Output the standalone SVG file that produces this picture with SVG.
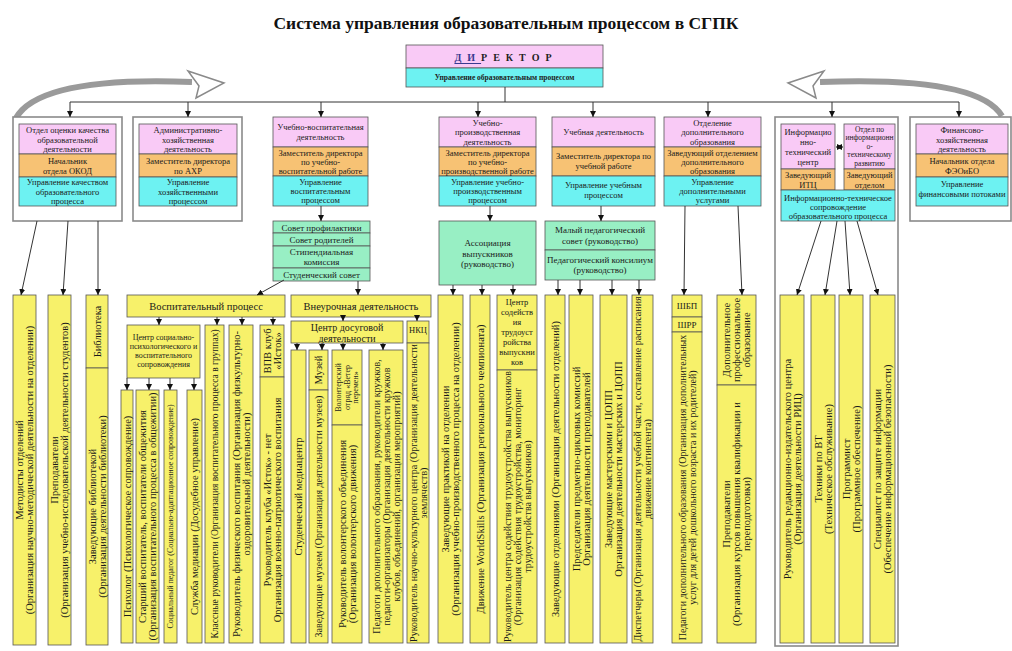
<svg xmlns="http://www.w3.org/2000/svg" width="1012" height="651" viewBox="0 0 1012 651">
<style>
.t{font-family:"Liberation Serif","Times New Roman",serif;font-size:8.5px;fill:#1a1a1a;text-anchor:middle;dominant-baseline:central}
.h{font-family:"Liberation Serif","Times New Roman",serif;font-size:10px;fill:#1a1a1a;text-anchor:middle;dominant-baseline:central}
.v{font-family:"Liberation Serif","Times New Roman",serif;font-size:10.5px;fill:#1a1a1a;text-anchor:middle;dominant-baseline:central}
.vs{font-family:"Liberation Serif","Times New Roman",serif;font-size:8px;fill:#1a1a1a;text-anchor:middle;dominant-baseline:central}
.pk{fill:#F9CAF6;stroke:#555;stroke-width:.8}
.or{fill:#F7C274;stroke:#555;stroke-width:.8}
.cy{fill:#6DF2F2;stroke:#555;stroke-width:.8}
.gr{fill:#98EFC4;stroke:#555;stroke-width:.8}
.ye{fill:#F7F16A;stroke:#555;stroke-width:.8}
.fr{fill:#fff;stroke:#8a8a8a;stroke-width:1.6}
.c{stroke:#333;stroke-width:1;fill:none;marker-end:url(#a)}
.l{stroke:#333;stroke-width:1;fill:none}
</style>
<defs>
<marker id="a" viewBox="0 0 10 10" refX="10" refY="5" markerWidth="6" markerHeight="6" orient="auto" markerUnits="userSpaceOnUse">
<path d="M0,0 L10,5 L0,10 Z" fill="#111"/>
</marker>
<marker id="b" viewBox="0 0 10 10" refX="10" refY="5" markerWidth="6" markerHeight="6" orient="auto-start-reverse" markerUnits="userSpaceOnUse">
<path d="M0,0 L10,5 L0,10 Z" fill="#111"/>
</marker>
</defs>
<rect width="1012" height="651" fill="#fff"/>
<text x="506" y="23" style="font-family:'Liberation Serif','Times New Roman',serif;font-size:17.5px;font-weight:bold;text-anchor:middle;dominant-baseline:central;fill:#111">Система управления образовательным процессом в СГПК</text>

<!-- curved arrows -->
<g id="curve-left">
<path d="M16,118 Q40,76 192,82" fill="none" stroke="#9a9a9a" stroke-width="6"/>
<path d="M188,71 L224,83 L196,98 L199,86 Z" fill="#fff" stroke="#8a8a8a" stroke-width="1.5"/>
</g>
<g id="curve-right">
<path d="M1002,116 Q978,76 820,82" fill="none" stroke="#9a9a9a" stroke-width="6"/>
<path d="M824,71 L788,83 L816,98 L813,86 Z" fill="#fff" stroke="#8a8a8a" stroke-width="1.5"/>
</g>

<g id="director">
<rect class="pk" x="406" y="45" width="197" height="23"/>
<rect class="cy" x="406" y="68" width="197" height="19"/>
<text x="506" y="57" style="font-family:'Liberation Serif',serif;font-size:10px;font-weight:bold;letter-spacing:6px;text-anchor:middle;dominant-baseline:central;fill:#222"><tspan fill="#3a3a90" text-decoration="underline">ДИ</tspan>РЕКТОР</text>
<text x="504.5" y="77.5" style="font-family:'Liberation Serif',serif;font-size:7.5px;font-weight:bold;text-anchor:middle;dominant-baseline:central;fill:#222">Управление образовательным процессом</text>
</g>

<g id="okod">
<rect class="fr" x="13" y="117" width="109" height="104"/>
<rect class="pk" x="19" y="124" width="97" height="30"/>
<rect class="or" x="19" y="154" width="97" height="23"/>
<rect class="cy" x="19" y="177" width="97" height="29"/>
<text class="t" x="67.5" y="130">Отдел оценки качества</text>
<text class="t" x="67.5" y="139.5">образовательной</text>
<text class="t" x="67.5" y="149">деятельности</text>
<text class="t" x="67.5" y="160.5">Начальник</text>
<text class="t" x="67.5" y="170.5">отдела ОКОД</text>
<text class="t" x="67.5" y="182">Управление качеством</text>
<text class="t" x="67.5" y="191.5">образовательного</text>
<text class="t" x="67.5" y="201">процесса</text>
</g>

<g id="ahd">
<rect class="fr" x="133" y="117" width="109" height="104"/>
<rect class="pk" x="139" y="124" width="98" height="30"/>
<rect class="or" x="139" y="154" width="98" height="23"/>
<rect class="cy" x="139" y="177" width="98" height="29"/>
<text class="t" x="188" y="130">Административно-</text>
<text class="t" x="188" y="139.5">хозяйственная</text>
<text class="t" x="188" y="149">деятельность</text>
<text class="t" x="188" y="160.5">Заместитель директора</text>
<text class="t" x="188" y="170.5">по АХР</text>
<text class="t" x="188" y="182">Управление</text>
<text class="t" x="188" y="191.5">хозяйственными</text>
<text class="t" x="188" y="201">процессом</text>
</g>

<g id="uvd">
<rect class="pk" x="273" y="117" width="95" height="30"/>
<rect class="or" x="273" y="147" width="95" height="29"/>
<rect class="cy" x="273" y="176" width="95" height="30"/>
<text class="t" x="320.5" y="127">Учебно-воспитательная</text>
<text class="t" x="320.5" y="137">деятельность</text>
<text class="t" x="320.5" y="152.5">Заместитель директора</text>
<text class="t" x="320.5" y="161.5">по учебно-</text>
<text class="t" x="320.5" y="170.5">воспитательной работе</text>
<text class="t" x="320.5" y="182">Управление</text>
<text class="t" x="320.5" y="191">воспитательным</text>
<text class="t" x="320.5" y="200">процессом</text>
</g>

<g id="councils">
<rect class="gr" x="273" y="221" width="97" height="12"/>
<rect class="gr" x="273" y="233" width="97" height="13"/>
<rect class="gr" x="273" y="246" width="97" height="22"/>
<rect class="gr" x="273" y="268" width="97" height="13"/>
<text class="t" x="321.5" y="227.5" style="font-size:9px">Совет профилактики</text>
<text class="t" x="321.5" y="239.5" style="font-size:9px">Совет родителей</text>
<text class="t" x="321.5" y="252" style="font-size:9px">Стипендиальная</text>
<text class="t" x="321.5" y="262" style="font-size:9px">комиссия</text>
<text class="t" x="321.5" y="274.5" style="font-size:9px">Студенческий совет</text>
</g>

<g id="upd">
<rect class="pk" x="439" y="117" width="97" height="30"/>
<rect class="or" x="439" y="147" width="97" height="29"/>
<rect class="cy" x="439" y="176" width="97" height="30"/>
<text class="t" x="487.5" y="122.5">Учебно-</text>
<text class="t" x="487.5" y="132">производственная</text>
<text class="t" x="487.5" y="141.5">деятельность</text>
<text class="t" x="487.5" y="152.5">Заместитель директора</text>
<text class="t" x="487.5" y="161.5">по учебно-</text>
<text class="t" x="487.5" y="170.5">производственной работе</text>
<text class="t" x="487.5" y="182">Управление учебно-</text>
<text class="t" x="487.5" y="191">производственным</text>
<text class="t" x="487.5" y="200">процессом</text>
</g>

<g id="assoc">
<rect class="gr" x="439" y="221" width="97" height="64"/>
<text class="t" x="487.5" y="243" style="font-size:9px">Ассоциация</text>
<text class="t" x="487.5" y="253.5" style="font-size:9px">выпускников</text>
<text class="t" x="487.5" y="264" style="font-size:9px">(руководство)</text>
</g>

<g id="ud">
<rect class="pk" x="552" y="117" width="103" height="30"/>
<rect class="or" x="552" y="147" width="103" height="29"/>
<rect class="cy" x="552" y="176" width="103" height="30"/>
<text class="t" x="603.5" y="132">Учебная деятельность</text>
<text class="t" x="603.5" y="156">Заместитель директора по</text>
<text class="t" x="603.5" y="166">учебной работе</text>
<text class="t" x="603.5" y="185">Управление учебным</text>
<text class="t" x="603.5" y="195">процессом</text>
</g>

<g id="pedsovet">
<rect class="gr" x="545" y="221" width="110" height="29"/>
<rect class="gr" x="545" y="250" width="110" height="30"/>
<text class="t" x="600" y="230" style="font-size:9px">Малый педагогический</text>
<text class="t" x="600" y="240.5" style="font-size:9px">совет (руководство)</text>
<text class="t" x="600" y="259.5" style="font-size:9px">Педагогический консилиум</text>
<text class="t" x="600" y="270" style="font-size:9px">(руководство)</text>
</g>

<g id="dod">
<rect class="pk" x="664" y="117" width="97" height="30"/>
<rect class="or" x="664" y="147" width="97" height="29"/>
<rect class="cy" x="664" y="176" width="97" height="30"/>
<text class="t" x="712.5" y="122.5">Отделение</text>
<text class="t" x="712.5" y="132">дополнительного</text>
<text class="t" x="712.5" y="141.5">образования</text>
<text class="t" x="712.5" y="152.5">Заведующий отделением</text>
<text class="t" x="712.5" y="161.5">дополнительного</text>
<text class="t" x="712.5" y="170.5">образования</text>
<text class="t" x="712.5" y="182">Управление</text>
<text class="t" x="712.5" y="191">дополнительными</text>
<text class="t" x="712.5" y="200">услугами</text>
</g>

<g id="itc">
<rect class="fr" x="775" y="117" width="123" height="529"/>
<rect class="pk" x="781" y="124" width="54" height="45"/>
<rect class="or" x="781" y="169" width="54" height="21"/>
<rect class="pk" x="844" y="124" width="51" height="45"/>
<rect class="or" x="844" y="169" width="51" height="21"/>
<rect class="cy" x="781" y="190" width="114" height="31"/>
<text class="t" x="808" y="131.5">Информацио</text>
<text class="t" x="808" y="141.5">нно-</text>
<text class="t" x="808" y="151.5">технический</text>
<text class="t" x="808" y="161.5">центр</text>
<text class="t" x="808" y="174.5">Заведующий</text>
<text class="t" x="808" y="184.5">ИТЦ</text>
<text class="t" x="869.5" y="129" style="font-size:7.5px">Отдел по</text>
<text class="t" x="869.5" y="137.5" style="font-size:7.5px">информационн</text>
<text class="t" x="869.5" y="146" style="font-size:7.5px">о-</text>
<text class="t" x="869.5" y="154.5" style="font-size:7.5px">техническому</text>
<text class="t" x="869.5" y="163" style="font-size:7.5px">развитию</text>
<text class="t" x="869.5" y="174.5">Заведующий</text>
<text class="t" x="869.5" y="184.5">отделом</text>
<text class="t" x="838" y="197.5">Информационно-техническое</text>
<text class="t" x="838" y="206.5">сопровождение</text>
<text class="t" x="838" y="215.5">образовательного процесса</text>
</g>

<g id="fin">
<rect class="fr" x="910" y="117" width="101" height="104"/>
<rect class="pk" x="916" y="124" width="92" height="30"/>
<rect class="or" x="916" y="154" width="92" height="23"/>
<rect class="cy" x="916" y="177" width="92" height="29"/>
<text class="t" x="962" y="130">Финансово-</text>
<text class="t" x="962" y="139.5">хозяйственная</text>
<text class="t" x="962" y="149">деятельность</text>
<text class="t" x="962" y="160.5">Начальник отдела</text>
<text class="t" x="962" y="170.5">ФЭОиБО</text>
<text class="t" x="962" y="184">Управление</text>
<text class="t" x="962" y="194">финансовыми потоками</text>
</g>

<!-- bottom row -->
<g id="metod">
<rect class="ye" x="13" y="295" width="23" height="350"/>
<g transform="translate(24.5,470) rotate(-90)"><text class="v" y="-5">Методисты отделений</text><text class="v" y="5">(Организация научно-методической деятельности на отделении)</text></g>
</g>
<g id="prep">
<rect class="ye" x="48" y="295" width="23" height="350"/>
<g transform="translate(59.5,470) rotate(-90)"><text class="v" y="-5">Преподаватели</text><text class="v" y="5">(Организация учебно-исследовательской деятельности студентов)</text></g>
</g>
<g id="bibl">
<rect class="ye" x="86" y="295" width="22" height="73"/>
<rect class="ye" x="86" y="368" width="22" height="277"/>
<g transform="translate(97,331.5) rotate(-90)"><text class="v">Библиотека</text></g>
<g transform="translate(97,506.5) rotate(-90)"><text class="v" y="-5">Заведующие библиотекой</text><text class="v" y="5">(Организация деятельности библиотеки)</text></g>
</g>

<g id="vosp">
<rect class="ye" x="127" y="295" width="158" height="22"/>
<text class="h" x="206" y="306" style="font-size:10.5px">Воспитательный процесс</text>
</g>
<g id="cspvs">
<rect class="ye" x="127" y="325" width="73" height="53"/>
<text class="t" x="163.5" y="337" style="font-size:8px">Центр социально-</text>
<text class="t" x="163.5" y="346" style="font-size:8px">психологического и</text>
<text class="t" x="163.5" y="355" style="font-size:8px">воспитательного</text>
<text class="t" x="163.5" y="364" style="font-size:8px">сопровождения</text>
</g>
<g id="psych">
<rect class="ye" x="121" y="390" width="12" height="253"/>
<g transform="translate(127,516.5) rotate(-90)"><text class="v">Психолог (Психологическое сопровождение)</text></g>
</g>
<g id="starvosp">
<rect class="ye" x="136" y="390" width="23" height="253"/>
<g transform="translate(147.5,516.5) rotate(-90)"><text class="v" y="-5">Старший воспитатель, воспитатели общежития</text><text class="v" y="5">(Организация воспитательного процесса в общежитии)</text></g>
</g>
<g id="socped">
<rect class="ye" x="164" y="390" width="13" height="253"/>
<g transform="translate(170.5,516.5) rotate(-90)"><text class="vs">Социальный педагог (Социально-адаптационное сопровождение)</text></g>
</g>
<g id="mediac">
<rect class="ye" x="187" y="390" width="15" height="253"/>
<g transform="translate(194.5,516.5) rotate(-90)"><text class="v">Служба медиации (Досудебное управление)</text></g>
</g>
<g id="klass">
<rect class="ye" x="205" y="325" width="19" height="318"/>
<g transform="translate(214.5,484) rotate(-90)"><text class="v" style="font-size:9.5px">Классные руководители (Организация воспитательного процесса в группах)</text></g>
</g>
<g id="fizv">
<rect class="ye" x="229" y="325" width="24" height="318"/>
<g transform="translate(241,484) rotate(-90)"><text class="v" y="-5">Руководитель физического воспитания (Организация физкультурно-</text><text class="v" y="5">оздоровительной деятельности)</text></g>
</g>
<g id="vpv">
<rect class="ye" x="260" y="325" width="24" height="52"/>
<rect class="ye" x="260" y="377" width="24" height="266"/>
<g transform="translate(272,351) rotate(-90)"><text class="v" y="-5">ВПВ клуб</text><text class="v" y="5">«Исток»</text></g>
<g transform="translate(272,510) rotate(-90)"><text class="v" y="-5">Руководитель клуба «Исток» - нет</text><text class="v" y="5">Организация военно-патриотического воспитания</text></g>
</g>

<g id="vneur">
<rect class="ye" x="291" y="295" width="140" height="22"/>
<text class="h" x="361" y="306" style="font-size:10.5px">Внеурочная деятельность</text>
</g>
<g id="cdd">
<rect class="ye" x="291" y="321" width="112" height="22"/>
<text class="h" x="347" y="327">Центр досуговой</text>
<text class="h" x="347" y="338">деятельности</text>
</g>
<g id="medcentr">
<rect class="ye" x="291" y="350" width="15" height="293"/>
<g transform="translate(298.5,496.5) rotate(-90)"><text class="v">Студенческий медиацентр</text></g>
</g>
<g id="muzey">
<rect class="ye" x="309" y="350" width="19" height="40"/>
<rect class="ye" x="309" y="390" width="19" height="253"/>
<g transform="translate(318.5,370) rotate(-90)"><text class="v">Музей</text></g>
<g transform="translate(318.5,516.5) rotate(-90)"><text class="v" style="font-size:10px">Заведующие музеем (Организация деятельности музеев)</text></g>
</g>
<g id="volont">
<rect class="ye" x="332" y="350" width="30" height="75"/>
<rect class="ye" x="332" y="425" width="30" height="218"/>
<g transform="translate(347,387.5) rotate(-90)"><text class="vs" y="-8.5">Волонтерский</text><text class="vs" y="0">отряд «Ветер</text><text class="vs" y="8.5">перемен»</text></g>
<g transform="translate(347,534) rotate(-90)"><text class="v" y="-5">Руководитель волонтерского объединения</text><text class="v" y="5">(Организация волонтерского движения)</text></g>
</g>
<g id="pdo">
<rect class="ye" x="369" y="350" width="34" height="293"/>
<g transform="translate(386,496.5) rotate(-90)"><text class="v" y="-10" style="font-size:10px">Педагоги дополнительного образования, руководители кружков,</text><text class="v" y="0" style="font-size:10px">педагоги-организаторы (Организация деятельности кружков</text><text class="v" y="10" style="font-size:10px">клубов, объединений, организация мероприятий)</text></g>
</g>
<g id="nkc">
<rect class="ye" x="407" y="321" width="22" height="22"/>
<rect class="ye" x="407" y="343" width="22" height="300"/>
<text class="t" x="418" y="330">НКЦ</text>
<g transform="translate(418,493) rotate(-90)"><text class="v" y="-5" style="font-size:10px">Руководитель научно-культурного центра (Организация деятельности</text><text class="v" y="5" style="font-size:10px">землячеств)</text></g>
</g>

<g id="zavprakt">
<rect class="ye" x="438" y="295" width="25" height="348"/>
<g transform="translate(450.5,469) rotate(-90)"><text class="v" y="-5">Заведующие практикой на отделении</text><text class="v" y="5">(Организация учебно-производственного процесса на отделении)</text></g>
</g>
<g id="ws">
<rect class="ye" x="470" y="295" width="20" height="348"/>
<g transform="translate(480,469) rotate(-90)"><text class="v">Движение WorldSkills (Организация регионального чемпионата)</text></g>
</g>
<g id="cstv">
<rect class="ye" x="497" y="295" width="40" height="75"/>
<rect class="ye" x="497" y="370" width="40" height="273"/>
<text class="t" x="517" y="302">Центр</text>
<text class="t" x="517" y="312">содейств</text>
<text class="t" x="517" y="322">ия</text>
<text class="t" x="517" y="332">трудоуст</text>
<text class="t" x="517" y="342">ройства</text>
<text class="t" x="517" y="352">выпускни</text>
<text class="t" x="517" y="362">ков</text>
<g transform="translate(517,506.5) rotate(-90)"><text class="v" y="-10" style="font-size:10px">Руководитель центра содействия трудоустройства выпускников</text><text class="v" y="0" style="font-size:10px">(Организация содействия трудоустройства, мониторинг</text><text class="v" y="10" style="font-size:10px">трудоустройства выпускников)</text></g>
</g>

<g id="zavotd">
<rect class="ye" x="545" y="295" width="20" height="348"/>
<g transform="translate(555,469) rotate(-90)"><text class="v">Заведующие отделениями (Организация деятельности отделений)</text></g>
</g>
<g id="pck">
<rect class="ye" x="569" y="295" width="24" height="348"/>
<g transform="translate(581,469) rotate(-90)"><text class="v" y="-5">Председатели предметно-цикловых комиссий</text><text class="v" y="5">Организация деятельности преподавателей</text></g>
</g>
<g id="masterskie">
<rect class="ye" x="600" y="295" width="27" height="348"/>
<g transform="translate(613.5,469) rotate(-90)"><text class="v" y="-5">Заведующие мастерскими и ЦОПП</text><text class="v" y="5">Организация деятельности мастерских и ЦОПП</text></g>
</g>
<g id="dispetch">
<rect class="ye" x="632" y="295" width="21" height="348"/>
<g transform="translate(642.5,469) rotate(-90)"><text class="v" y="-5" style="font-size:10px">Диспетчеры (Организация деятельности учебной части, составление расписания</text><text class="v" y="5" style="font-size:10px">движение контингента)</text></g>
</g>

<g id="pdo2">
<rect class="ye" x="672" y="295" width="30" height="22"/>
<rect class="ye" x="672" y="317" width="30" height="15"/>
<rect class="ye" x="672" y="332" width="30" height="311"/>
<text class="t" x="687" y="306" style="font-size:9px">ШБП</text>
<text class="t" x="687" y="324.5" style="font-size:9px">ШРР</text>
<g transform="translate(687,487.5) rotate(-90)"><text class="v" y="-5" style="font-size:10px">Педагоги дополнительного образования (Организация дополнительных</text><text class="v" y="5" style="font-size:10px">услуг для детей дошкольного возраста и их родителей)</text></g>
</g>
<g id="dpo">
<rect class="ye" x="717" y="295" width="39" height="90"/>
<rect class="ye" x="717" y="385" width="39" height="258"/>
<g transform="translate(736.5,340) rotate(-90)"><text class="v" y="-10">Дополнительное</text><text class="v" y="0">профессиональное</text><text class="v" y="10">образование</text></g>
<g transform="translate(736.5,514) rotate(-90)"><text class="v" y="-10">Преподаватели</text><text class="v" y="0">(Организация курсов повышения квалификации и</text><text class="v" y="10">переподготовки)</text></g>
</g>

<g id="ric">
<rect class="ye" x="780" y="295" width="24" height="348"/>
<g transform="translate(792,469) rotate(-90)"><text class="v" y="-5">Руководитель редакционно-издательского центра</text><text class="v" y="5">(Организация деятельности РИЦ)</text></g>
</g>
<g id="vt">
<rect class="ye" x="811" y="295" width="24" height="348"/>
<g transform="translate(823,469) rotate(-90)"><text class="v" y="-5">Техники по ВТ</text><text class="v" y="5">(Техническое обслуживание)</text></g>
</g>
<g id="prog">
<rect class="ye" x="839" y="295" width="24" height="348"/>
<g transform="translate(851,469) rotate(-90)"><text class="v" y="-5">Программист</text><text class="v" y="5">(Программное обеспечение)</text></g>
</g>
<g id="zi">
<rect class="ye" x="870" y="295" width="25" height="348"/>
<g transform="translate(882.5,469) rotate(-90)"><text class="v" y="-5">Специалист по защите информации</text><text class="v" y="5">(Обеспечение информационной безопасности)</text></g>
</g>

<g id="connectors">
<path class="l" d="M505,87 V102 M70,102 H959"/>
<path class="c" d="M70,102 V117"/>
<path class="c" d="M188,102 V117"/>
<path class="c" d="M321,102 V117"/>
<path class="c" d="M478,102 V117"/>
<path class="c" d="M593,102 V117"/>
<path class="c" d="M708,102 V117"/>
<path class="c" d="M832,102 V117"/>
<path class="c" d="M959,102 V117"/>
<path class="c" d="M37,221 L21,295"/>
<path class="c" d="M68,221 L63,295"/>
<path class="c" d="M98,221 V295"/>
<path class="c" d="M321,206 V221"/>
<path class="c" d="M284,280 L257,295"/>
<path class="c" d="M358,281 V295"/>
<path class="c" d="M159,317 V325"/>
<path class="c" d="M217,317 V325"/>
<path class="c" d="M242,317 V325"/>
<path class="c" d="M273,317 V325"/>
<path class="c" d="M127,378 V390"/>
<path class="c" d="M149,378 V390"/>
<path class="c" d="M170,378 V390"/>
<path class="c" d="M194,378 V390"/>
<path class="c" d="M343,317 V321"/>
<path class="c" d="M417,317 V321"/>
<path class="c" d="M297,343 V350"/>
<path class="c" d="M322,343 V350"/>
<path class="c" d="M343,343 V350"/>
<path class="c" d="M383,343 V350"/>
<path class="c" d="M490,206 V221"/>
<path class="c" d="M453,285 V295"/>
<path class="c" d="M482,285 V295"/>
<path class="c" d="M513,285 V295"/>
<path class="c" d="M601,206 V221"/>
<path class="c" d="M558,280 V295"/>
<path class="c" d="M580,280 V295"/>
<path class="c" d="M612,280 V295"/>
<path class="c" d="M639,280 V295"/>
<path class="c" d="M685,206 L684,295"/>
<path class="c" d="M738,206 L742,295"/>
<path class="c" d="M821,221 L797,295"/>
<path class="c" d="M837,221 L825,295"/>
<path class="c" d="M845,221 L850,295"/>
<path class="c" d="M857,221 L878,295"/>
<path class="l" d="M836,147 H843" marker-start="url(#b)" marker-end="url(#b)"/>
</g>
</svg>
